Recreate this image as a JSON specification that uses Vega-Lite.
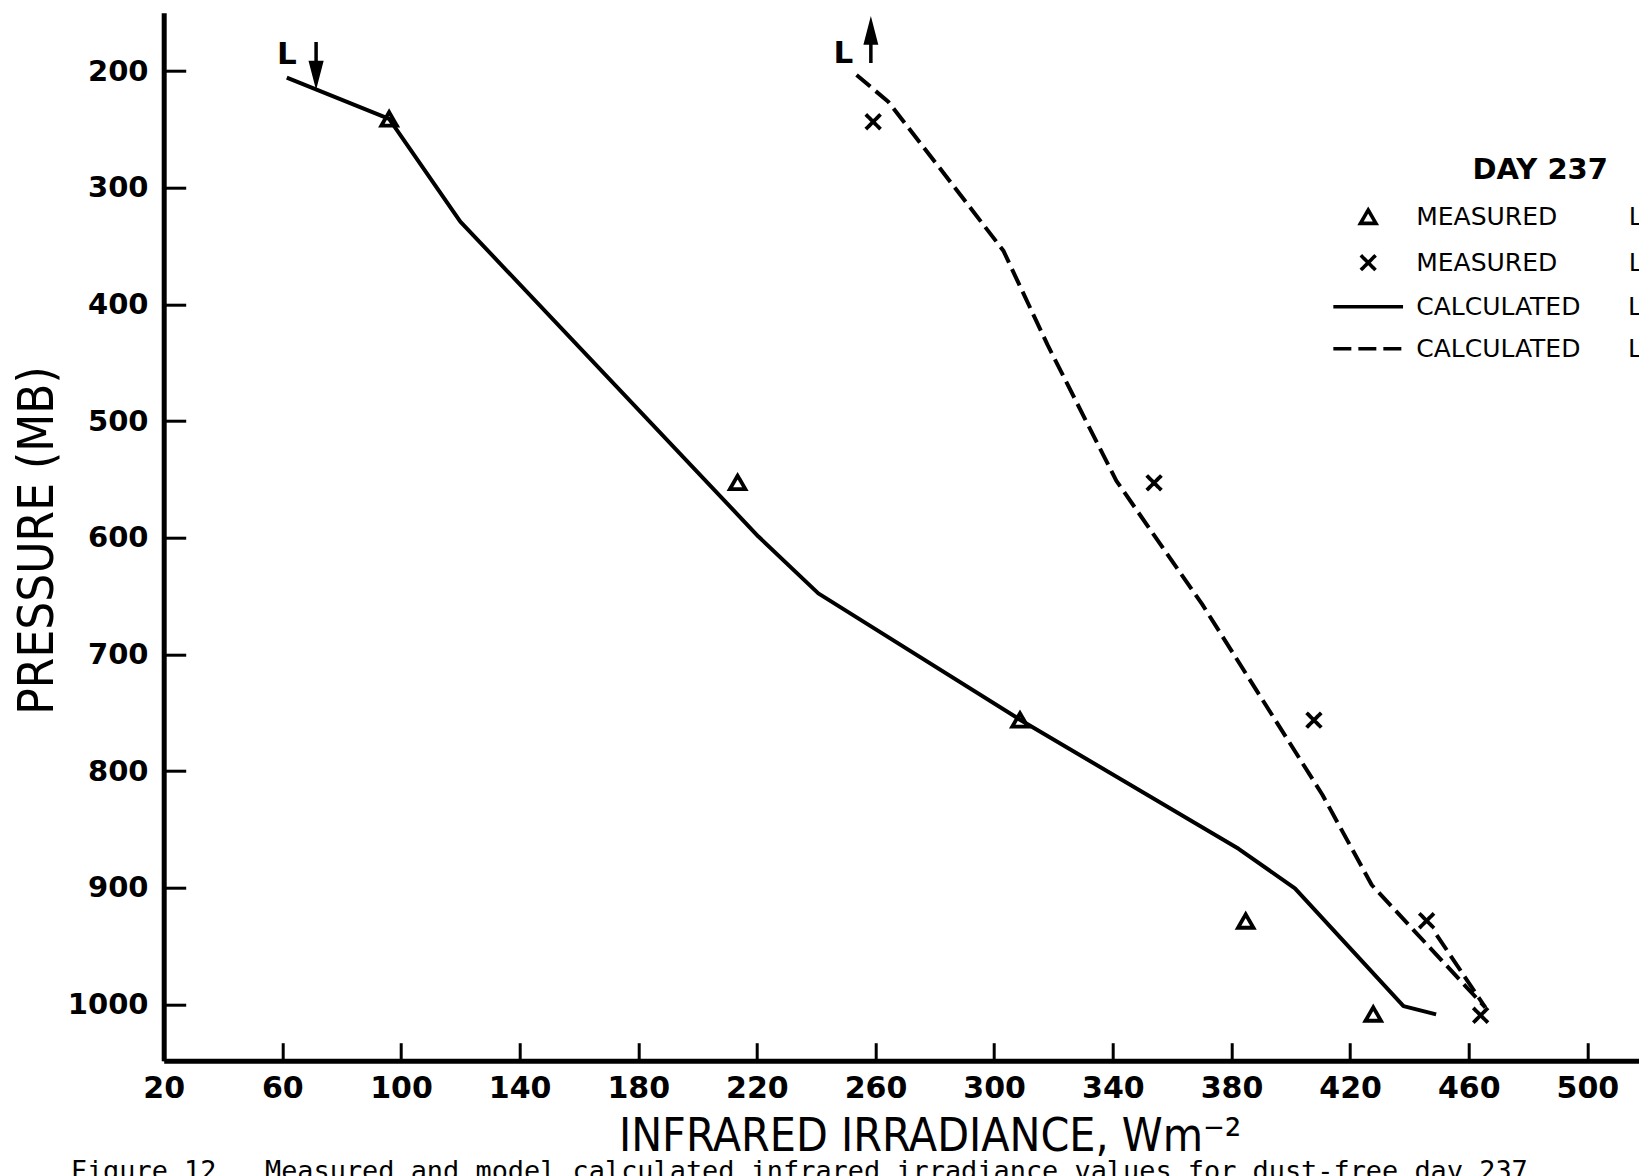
{
  "$schema": "https://vega.github.io/schema/vega-lite/v6.json",
  "autosize": {"type": "none"},
  "width": 1475.3,
  "height": 1048,
  "padding": {"left": 163.7, "top": 12.7, "right": 0, "bottom": 115.3},
  "background": "white",
  "title": {
    "text": "Figure 12.\u00a0 Measured and model calculated infrared irradiance values for dust-free day 237.",
    "orient": "bottom",
    "anchor": "start",
    "frame": "group",
    "font": "DejaVu Sans Mono",
    "fontSize": 26.9,
    "fontWeight": "normal",
    "color": "black",
    "baseline": "top",
    "dx": -93,
    "offset": 0
  },
  "datasets": {
    "calculated": [
      {"series": "CALCULATED L↓", "piece": "a", "order": 0, "irradiance": 61.5, "pressure": 205.7},
      {"series": "CALCULATED L↓", "piece": "a", "order": 1, "irradiance": 96, "pressure": 241},
      {"series": "CALCULATED L↓", "piece": "a", "order": 2, "irradiance": 120, "pressure": 329},
      {"series": "CALCULATED L↓", "piece": "a", "order": 3, "irradiance": 220.5, "pressure": 599},
      {"series": "CALCULATED L↓", "piece": "a", "order": 4, "irradiance": 240.7, "pressure": 647.7},
      {"series": "CALCULATED L↓", "piece": "a", "order": 5, "irradiance": 308.7, "pressure": 756},
      {"series": "CALCULATED L↓", "piece": "a", "order": 6, "irradiance": 382.4, "pressure": 866.7},
      {"series": "CALCULATED L↓", "piece": "a", "order": 7, "irradiance": 401.4, "pressure": 900.6},
      {"series": "CALCULATED L↓", "piece": "a", "order": 8, "irradiance": 438, "pressure": 1001.5},
      {"series": "CALCULATED L↓", "piece": "a", "order": 9, "irradiance": 449, "pressure": 1008.6},
      {"series": "CALCULATED L↑", "piece": "b", "order": 0, "irradiance": 253.6, "pressure": 203.4},
      {"series": "CALCULATED L↑", "piece": "b", "order": 1, "irradiance": 264.3, "pressure": 226.3},
      {"series": "CALCULATED L↑", "piece": "b", "order": 2, "irradiance": 281.7, "pressure": 283.4},
      {"series": "CALCULATED L↑", "piece": "b", "order": 3, "irradiance": 303.1, "pressure": 354},
      {"series": "CALCULATED L↑", "piece": "b", "order": 4, "irradiance": 318, "pressure": 434.8},
      {"series": "CALCULATED L↑", "piece": "b", "order": 5, "irradiance": 341.2, "pressure": 551.3},
      {"series": "CALCULATED L↑", "piece": "b", "order": 6, "irradiance": 370.1, "pressure": 657},
      {"series": "CALCULATED L↑", "piece": "b", "order": 7, "irradiance": 410.6, "pressure": 820.1},
      {"series": "CALCULATED L↑", "piece": "b", "order": 8, "irradiance": 427.3, "pressure": 897.7},
      {"series": "CALCULATED L↑", "piece": "b", "order": 9, "irradiance": 465.6, "pressure": 1002.7},
      {"series": "CALCULATED L↑", "piece": "c", "order": 10, "irradiance": 449.2, "pressure": 940.6},
      {"series": "CALCULATED L↑", "piece": "c", "order": 11, "irradiance": 465.6, "pressure": 1002.7}
    ],
    "measured": [
      {"series": "MEASURED L↓", "irradiance": 96, "pressure": 241},
      {"series": "MEASURED L↓", "irradiance": 213.5, "pressure": 552.6},
      {"series": "MEASURED L↓", "irradiance": 308.7, "pressure": 756.2},
      {"series": "MEASURED L↓", "irradiance": 384.8, "pressure": 928.6},
      {"series": "MEASURED L↓", "irradiance": 427.8, "pressure": 1008.3},
      {"series": "MEASURED L↑", "irradiance": 259.2, "pressure": 243.5},
      {"series": "MEASURED L↑", "irradiance": 353.9, "pressure": 553},
      {"series": "MEASURED L↑", "irradiance": 407.8, "pressure": 756.4},
      {"series": "MEASURED L↑", "irradiance": 445.8, "pressure": 928.3},
      {"series": "MEASURED L↑", "irradiance": 464, "pressure": 1009.4}
    ]
  },
  "resolve": {"axis": {"x": "independent", "y": "independent"}},
  "encoding": {
    "x": {
      "field": "irradiance",
      "type": "quantitative",
      "scale": {"domain": [20, 517.4], "nice": false, "zero": false},
      "axis": null
    },
    "y": {
      "field": "pressure",
      "type": "quantitative",
      "scale": {"domain": [150, 1048.3], "reverse": true, "nice": false, "zero": false},
      "axis": null
    }
  },
  "layer": [
    {
      "data": {"name": "calculated"},
      "transform": [{"filter": "datum.series == 'CALCULATED L↓'"}],
      "mark": {"type": "line", "color": "black", "strokeWidth": 4, "strokeCap": "butt", "strokeJoin": "round"},
      "encoding": {
        "x": {
          "field": "irradiance",
          "type": "quantitative",
          "scale": {"domain": [20, 517.4], "nice": false, "zero": false},
          "axis": {
            "orient": "bottom",
            "title": "INFRARED IRRADIANCE, Wm⁻²",
            "values": [20, 60, 100, 140, 180, 220, 260, 300, 340, 380, 420, 460, 500],
            "format": "d",
            "grid": false,
            "tickSize": 0,
            "domainColor": "black",
            "domainWidth": 5,
            "labelFont": "DejaVu Sans",
            "labelFontWeight": "bold",
            "labelFontSize": 30,
            "labelColor": "black",
            "labelBaseline": "top",
            "labelPadding": 12.5,
            "labelFlush": false,
            "labelOverlap": false,
            "titleFont": "DejaVu Sans Condensed, DejaVu Sans",
            "titleFontSize": 46,
            "titleFontWeight": "normal",
            "titleColor": "black",
            "titleX": 766,
            "titleY": 89.3,
            "titleBaseline": "alphabetic",
            "titleAlign": "center",
            "titleAnchor": null
          }
        },
        "y": {
          "field": "pressure",
          "type": "quantitative",
          "scale": {"domain": [150, 1048.3], "reverse": true, "nice": false, "zero": false},
          "axis": {
            "orient": "left",
            "title": "PRESSURE (MB)",
            "values": [200, 300, 400, 500, 600, 700, 800, 900, 1000],
            "format": "d",
            "grid": false,
            "tickSize": 0,
            "domainColor": "black",
            "domainWidth": 5,
            "labelFont": "DejaVu Sans",
            "labelFontWeight": "bold",
            "labelFontSize": 29,
            "labelColor": "black",
            "labelPadding": 15.7,
            "labelFlush": false,
            "labelOverlap": false,
            "titleFont": "DejaVu Sans Condensed, DejaVu Sans",
            "titleFontSize": 49,
            "titleFontWeight": "normal",
            "titleColor": "black",
            "titleAngle": -90,
            "titleX": -111.7,
            "titleY": 527.3,
            "titleBaseline": "alphabetic",
            "titleAlign": "center",
            "titleAnchor": null
          }
        },
        "detail": {"field": "piece"},
        "order": {"field": "order", "type": "quantitative"}
      }
    },
    {
      "data": {"name": "calculated"},
      "transform": [{"filter": "datum.series == 'CALCULATED L↑'"}],
      "mark": {"type": "line", "color": "black", "strokeWidth": 4, "strokeCap": "butt", "strokeJoin": "round", "strokeDash": [18, 7]},
      "encoding": {
        "x": {
          "field": "irradiance",
          "type": "quantitative",
          "scale": {"domain": [20, 517.4], "nice": false, "zero": false},
          "axis": {
            "orient": "top",
            "offset": -1048,
            "title": null,
            "values": [20, 60, 100, 140, 180, 220, 260, 300, 340, 380, 420, 460, 500],
            "labels": false,
            "domain": false,
            "grid": false,
            "ticks": true,
            "tickSize": 18,
            "tickWidth": 3,
            "tickColor": "black",
            "tickOpacity": 1
          }
        },
        "y": {
          "field": "pressure",
          "type": "quantitative",
          "scale": {"domain": [150, 1048.3], "reverse": true, "nice": false, "zero": false},
          "axis": {
            "orient": "right",
            "offset": -1475.3,
            "title": null,
            "values": [200, 300, 400, 500, 600, 700, 800, 900, 1000],
            "labels": false,
            "domain": false,
            "grid": false,
            "ticks": true,
            "tickSize": 22,
            "tickWidth": 3,
            "tickColor": "black",
            "tickOpacity": 1
          }
        },
        "detail": {"field": "piece"},
        "order": {"field": "order", "type": "quantitative"}
      }
    },
    {
      "data": {"name": "measured"},
      "mark": {"type": "point", "filled": false, "color": "black", "strokeWidth": 3.8, "size": 240, "opacity": 1},
      "encoding": {
        "shape": {
          "field": "series",
          "type": "nominal",
          "scale": {
            "domain": ["MEASURED L↓", "MEASURED L↑", "CALCULATED L↓", "CALCULATED L↑"],
            "range": ["triangle-up", "M-0.95,-0.95L0.95,0.95M-0.95,0.95L0.95,-0.95", "M-4.5,0H4.5", "M-4.5,0H4.5"]
          },
          "legend": {
            "orient": "none",
            "legendX": 1192,
            "legendY": 143.5,
            "padding": 0,
            "title": "\u200b\u00a0\u00a0\u00a0\u00a0\u00a0\u00a0\u00a0\u00a0\u00a0\u00a0\u00a0\u2009DAY 237",
            "titleFont": "DejaVu Sans",
            "titleFontSize": 29,
            "titleFontWeight": "bold",
            "titleColor": "black",
            "titlePadding": 19,
            "titleLimit": 0,
            "labelFont": "DejaVu Sans",
            "labelFontSize": 25,
            "labelColor": "black",
            "labelOffset": 35.5,
            "labelLimit": 0,
            "symbolSize": 240,
            "symbolStrokeWidth": 3.6,
            "symbolStrokeColor": "black",
            "rowPadding": 16,
            "labelExpr": "indexof(datum.label, 'MEASURED') == 0 ? replace(datum.label, ' ', '\u00a0\u00a0\u00a0\u00a0\u00a0\u00a0\u00a0\u00a0\u00a0') : replace(datum.label, ' ', '\u00a0\u00a0\u00a0\u00a0\u00a0\u00a0')"
          }
        },
        "strokeDash": {
          "field": "series",
          "type": "nominal",
          "scale": {
            "domain": ["MEASURED L↓", "MEASURED L↑", "CALCULATED L↓", "CALCULATED L↑"],
            "range": [[1, 0], [1, 0], [1, 0], [18, 7]]
          },
          "legend": {
            "orient": "none",
            "legendX": 1192,
            "legendY": 143.5,
            "padding": 0,
            "title": "\u200b\u00a0\u00a0\u00a0\u00a0\u00a0\u00a0\u00a0\u00a0\u00a0\u00a0\u00a0\u2009DAY 237",
            "titleFont": "DejaVu Sans",
            "titleFontSize": 29,
            "titleFontWeight": "bold",
            "titleColor": "black",
            "titlePadding": 19,
            "titleLimit": 0,
            "labelFont": "DejaVu Sans",
            "labelFontSize": 25,
            "labelColor": "black",
            "labelOffset": 35.5,
            "labelLimit": 0,
            "symbolSize": 240,
            "symbolStrokeWidth": 3.6,
            "symbolStrokeColor": "black",
            "rowPadding": 16,
            "labelExpr": "indexof(datum.label, 'MEASURED') == 0 ? replace(datum.label, ' ', '\u00a0\u00a0\u00a0\u00a0\u00a0\u00a0\u00a0\u00a0\u00a0') : replace(datum.label, ' ', '\u00a0\u00a0\u00a0\u00a0\u00a0\u00a0')"
          }
        }
      }
    },
    {
      "data": {"name": "calculated"},
      "transform": [{"filter": "datum.order == 0 && datum.series == 'CALCULATED L↓'"}],
      "mark": {"type": "text", "text": "L", "font": "DejaVu Sans", "fontWeight": "bold", "fontSize": 31, "color": "black", "align": "center", "baseline": "alphabetic", "dx": 0, "dy": -13.7}
    },
    {
      "data": {"name": "calculated"},
      "transform": [{"filter": "datum.order == 0 && datum.series == 'CALCULATED L↑'"}],
      "mark": {"type": "text", "text": "L", "font": "DejaVu Sans", "fontWeight": "bold", "fontSize": 31, "color": "black", "align": "center", "baseline": "alphabetic", "dx": -13.2, "dy": -11.7}
    },
    {
      "data": {"name": "calculated"},
      "transform": [{"filter": "datum.order == 0 && datum.series == 'CALCULATED L↓'"}],
      "mark": {"type": "point", "shape": "M0,-1L0,0.2M-0.26,0L0,1L0.26,0Z", "size": 1681, "filled": true, "fill": "black", "stroke": "black", "strokeWidth": 3.5, "opacity": 1, "xOffset": 29.3, "yOffset": -15.2}
    },
    {
      "data": {"name": "calculated"},
      "transform": [{"filter": "datum.order == 0 && datum.series == 'CALCULATED L↑'"}],
      "mark": {"type": "point", "shape": "M0,1L0,-0.2M-0.26,0L0,-1L0.26,0Z", "size": 1600, "filled": true, "fill": "black", "stroke": "black", "strokeWidth": 3.5, "opacity": 1, "xOffset": 14.3, "yOffset": -32}
    }
  ],
  "config": {
    "view": {"stroke": null}
  }
}
